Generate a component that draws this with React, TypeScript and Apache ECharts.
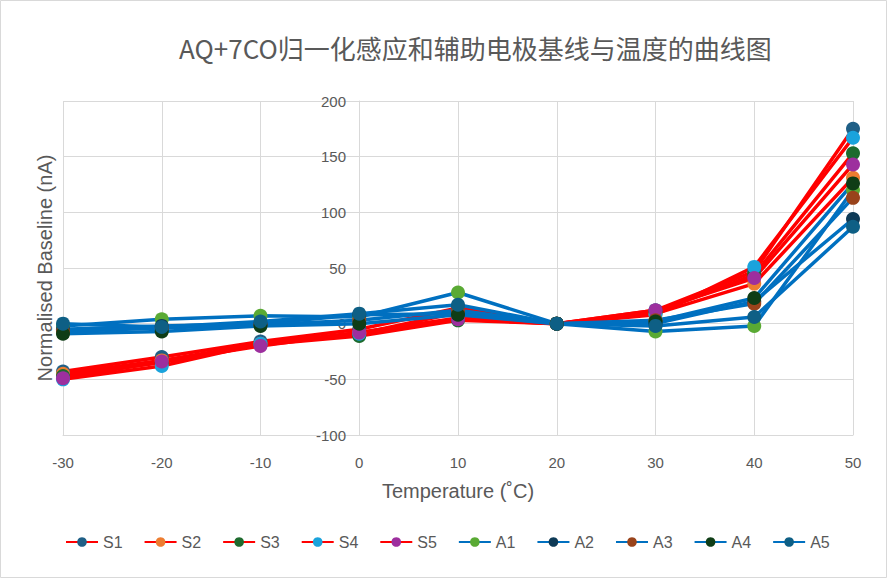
import React, { useEffect, useRef } from "react";
import * as echarts from "echarts";

const temperatures = [-30, -20, -10, 0, 10, 20, 30, 40, 50];

const S1 = [-43, -30, -16, -5, 14, 0, 12, 47, 175];
const S2 = [-45, -33, -18, -8, 5, 0, 9, 36, 131];
const S3 = [-47, -35, -19, -11, 3, 0, 10, 44, 153];
const S4 = [-50, -38, -18, -9, 10, 0, 8, 51, 167];
const S5 = [-49, -34, -20, -8, 4, 0, 12, 41, 143];
const A1 = [-2, 4, 7, 6, 28, 0, -7, -2, 120];
const A2 = [-5, -2, 0, 8, 9, 0, 0, 20, 94];
const A3 = [-7, -4, -1, 3, 12, 0, 3, 18, 113];
const A4 = [-9, -7, -2, 0, 8, 0, 2, 23, 126];
const A5 = [0, -3, 2, 9, 17, 0, -2, 6, 87];

const seriesNames = ["S1", "S2", "S3", "S4", "S5", "A1", "A2", "A3", "A4", "A5"];
const seriesValues = [S1, S2, S3, S4, S5, A1, A2, A3, A4, A5];
const markerColors = ["#1f5f86", "#ed7d31", "#1e6b2e", "#1aa3dc", "#9d2f9e", "#5aaa34", "#0e3a56", "#99431b", "#0f3d16", "#0e5f85"];
const lineColors = ["#ff0000", "#ff0000", "#ff0000", "#ff0000", "#ff0000", "#0070c0", "#0070c0", "#0070c0", "#0070c0", "#0070c0"];

const titleText = "AQ+7CO归一化感应和辅助电极基线与温度的曲线图";
const xTitle = "Temperature (˚C)";
const yTitle = "Normalised Baseline (nA)";

export default function App() {
  const ref = useRef<HTMLDivElement>(null);
  useEffect(() => {
    if (!ref.current) return;
    const chart = echarts.init(ref.current, undefined, { renderer: "svg" });
    const font = "'Liberation Sans', Arial, sans-serif";
    chart.setOption({
      animation: false,
      backgroundColor: "#ffffff",
      title: {
        text: titleText,
        left: 174,
        top: 29,
        textStyle: { fontFamily: "'Noto Sans CJK SC', 'Liberation Sans', sans-serif", fontSize: 26, fontWeight: "normal", color: "#595959" },
      },
      grid: { left: 63, right: 35, top: 101, bottom: 144, containLabel: false },
      xAxis: {
        type: "value",
        min: -30,
        max: 50,
        interval: 10,
        axisLine: { onZero: false, lineStyle: { color: "#d9d9d9", width: 1 } },
        axisTick: { show: false },
        axisLabel: { color: "#595959", fontSize: 15, fontFamily: font, margin: 20 },
        splitLine: { show: true, lineStyle: { color: "#d9d9d9", width: 1 } },
      },
      yAxis: {
        type: "value",
        min: -100,
        max: 200,
        interval: 50,
        offset: -296,
        axisLine: { show: true, onZero: false, lineStyle: { color: "#d9d9d9", width: 1 } },
        axisTick: { show: false },
        axisLabel: { color: "#595959", fontSize: 15, fontFamily: font, margin: 13 },
        splitLine: { show: true, lineStyle: { color: "#d9d9d9", width: 1 } },
      },
      legend: {
        bottom: 24,
        left: 60,
        itemWidth: 32,
        itemHeight: 12,
        itemGap: 21,
        textStyle: { color: "#595959", fontSize: 16, fontFamily: font },
        data: seriesNames,
      },
      graphic: [
        {
          type: "text",
          x: 45,
          y: 268,
          rotation: Math.PI / 2,
          style: { text: yTitle, fill: "#595959", fontSize: 20, fontFamily: font, align: "center", verticalAlign: "middle" },
        },
        {
          type: "text",
          x: 458,
          y: 491,
          style: { text: xTitle, fill: "#595959", fontSize: 20, fontFamily: font, align: "center", verticalAlign: "middle" },
        },
        {
          type: "rect",
          shape: { x: 0.5, y: 0.5, width: 886, height: 577 },
          style: { fill: "none", stroke: "#d9d9d9", lineWidth: 1 },
          silent: true,
        },
      ],
      series: seriesNames.map((name, i) => ({
        name,
        type: "line",
        data: temperatures.map((t, j) => [t, seriesValues[i][j]]),
        symbol: "circle",
        symbolSize: 14,
        lineStyle: { color: lineColors[i], width: 3.5 },
        itemStyle: { color: markerColors[i] },
      })),
    });
    return () => chart.dispose();
  }, []);
  return <div ref={ref} style={{ position: "fixed", left: 0, top: 0, width: 888, height: 579 }} />;
}
